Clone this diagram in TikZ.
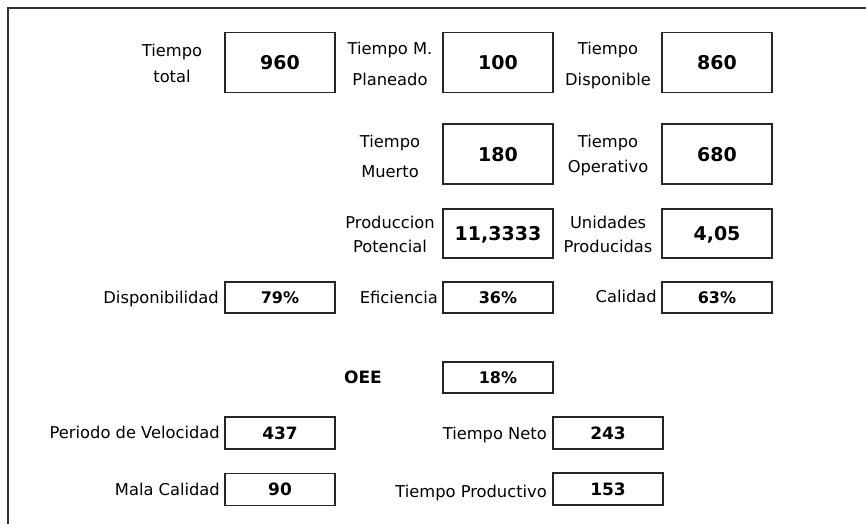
\documentclass[tikz,border=0pt]{standalone}
\usepackage{fontspec}
\setmainfont{DejaVu Sans}
\begin{document}
\begin{tikzpicture}[x=1pt,y=-1pt,
  valbox/.style={draw=black!85, line width=1.6pt, minimum width=110pt, inner sep=0pt, text depth=0pt},
  bigval/.style={valbox, minimum height=60pt, font=\bfseries\fontsize{19}{19}\selectfont},
  midval/.style={valbox, minimum height=49pt, font=\bfseries\fontsize{19}{19}\selectfont},
  pctval/.style={valbox, minimum height=31pt, font=\bfseries\fontsize{16}{16}\selectfont},
  lowval/.style={valbox, minimum height=32pt, font=\bfseries\fontsize{17}{17}\selectfont},
  lbl/.style={inner sep=0pt, align=center, anchor=base, font=\fontsize{16.3}{#1}\selectfont},
  lbl/.default=26,
  rlbl/.style={inner sep=0pt, anchor=base east, font=\fontsize{16.3}{16}\selectfont},
]
\useasboundingbox (0,0) rectangle (866,524);
\fill[white] (0,0) rectangle (866,524);
\draw[line width=2.4pt, draw=black!80] (8,524) -- (8,8) -- (866,8);

% value boxes
\node[bigval] (v960) at (280,62.5) {960};
\node[bigval] (v100) at (498,62.5) {100};
\node[bigval] (v860) at (717,62.5) {860};
\node[bigval] (v180) at (498,154) {180};
\node[bigval] (v680) at (717,154) {680};
\node[midval] (vpp) at (498,233.5) {11,3333};
\node[midval] (vup) at (717,233.5) {4,05};
\node[pctval] (vdisp) at (280,297.5) {79\%};
\node[pctval] (vefi) at (498,297.5) {36\%};
\node[pctval] (vcal) at (717,297.5) {63\%};
\node[pctval] (voee) at (498,377.5) {18\%};
\node[lowval] (vpv) at (280,433) {437};
\node[lowval] (vtn) at (608,433) {243};
\node[lowval] (vmc) at (280,489.5) {90};
\node[lowval] (vtp) at (608,489) {153};

% labels (anchor base = baseline of last line)
\node[lbl=26] (ltt) at (172,83) {Tiempo\\total};
\node[lbl=30] (ltm) at (390,85) {Tiempo M.\\Planeado};
\node[lbl=30] (ltd) at (608,85) {Tiempo\\Disponible};
\node[lbl=30] (lmu) at (390,177) {Tiempo\\Muerto};
\node[lbl=25] (lop) at (608,172) {Tiempo\\Operativo};
\node[lbl=24] (lpp) at (390,252) {Produccion\\Potencial};
\node[lbl=24] (lup) at (608,252) {Unidades\\Producidas};

\node[rlbl] (ldisp) at (219,303) {Disponibilidad};
\node[rlbl] (lefi) at (438,303) {Eficiencia};
\node[rlbl] (lcal) at (657,302) {Calidad};
\node[inner sep=0pt, anchor=base, font=\bfseries\fontsize{17}{17}\selectfont] (loee) at (363,383) {OEE};
\node[rlbl] (lpv) at (220,438) {Periodo de Velocidad};
\node[rlbl] (lmc) at (220,495) {Mala Calidad};
\node[rlbl] (ltn) at (547,439) {Tiempo Neto};
\node[rlbl] (ltp) at (547,497) {Tiempo Productivo};
\end{tikzpicture}
\end{document}
